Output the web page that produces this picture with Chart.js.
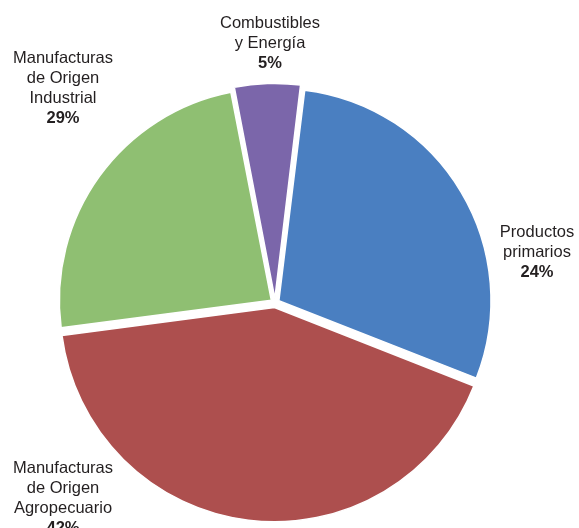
<!DOCTYPE html>
<html>
<head>
<meta charset="utf-8">
<script src="https://cdn.jsdelivr.net/npm/chart.js@4.4.1/dist/chart.umd.min.js"></script>
<style>
  html, body { margin: 0; padding: 0; background: #ffffff; }
  #wrap { width: 579px; height: 528px; position: relative; }
</style>
</head>
<body>
<div id="wrap"><canvas id="c"></canvas></div>
<script>
// ---- data ----
const categories = [
  ['Productos', 'primarios'],
  ['Manufacturas', 'de Origen', 'Agropecuario'],
  ['Manufacturas', 'de Origen', 'Industrial'],
  ['Combustibles', 'y Energía']
];
const sliceValues = [29, 42, 24, 5];           // slice sizes
const percentLabels = ['24%', '42%', '29%', '5%']; // percentages as printed on the picture
const sliceColors = ['#4A7FC1', '#AD4F4E', '#8FBF72', '#7B66AA'];

// label placement relative to pie centre (styling, not data)
const labelAnchors = [
  { dx: 262, dy: -66 },
  { dx: -212, dy: 170 },
  { dx: -212, dy: -240 },
  { dx: -5, dy: -275 }
];

const labelPlugin = {
  id: 'sliceLabels',
  afterDraw(chart) {
    const ctx = chart.ctx;
    const meta = chart.getDatasetMeta(0);
    const cx = meta.data[0].x, cy = meta.data[0].y;
    ctx.save();
    ctx.fillStyle = '#231f20';
    ctx.textAlign = 'center';
    ctx.textBaseline = 'alphabetic';
    const lh = 20;
    categories.forEach((lines, i) => {
      const a = labelAnchors[i];
      const x = cx + a.dx, y = cy + a.dy;
      ctx.font = '16.5px "Liberation Sans", Arial, sans-serif';
      lines.forEach((t, k) => ctx.fillText(t, x, y + k * lh));
      ctx.font = 'bold 16.5px "Liberation Sans", Arial, sans-serif';
      ctx.fillText(percentLabels[i], x, y + lines.length * lh);
    });
    ctx.restore();
  }
};

new Chart(document.getElementById('c'), {
  type: 'pie',
  data: {
    labels: categories.map(l => l.join(' ')),
    datasets: [{
      data: sliceValues,
      backgroundColor: sliceColors,
      borderColor: '#ffffff',
      borderWidth: 1.5,
      offset: 18
    }]
  },
  options: {
    responsive: true,
    maintainAspectRatio: false,
    animation: false,
    rotation: 7,
    radius: 212,
    layout: { padding: { left: 0, right: 29, top: 78, bottom: 0 } },
    plugins: {
      legend: { display: false },
      tooltip: { enabled: false }
    }
  },
  plugins: [labelPlugin]
});
</script>
</body>
</html>
